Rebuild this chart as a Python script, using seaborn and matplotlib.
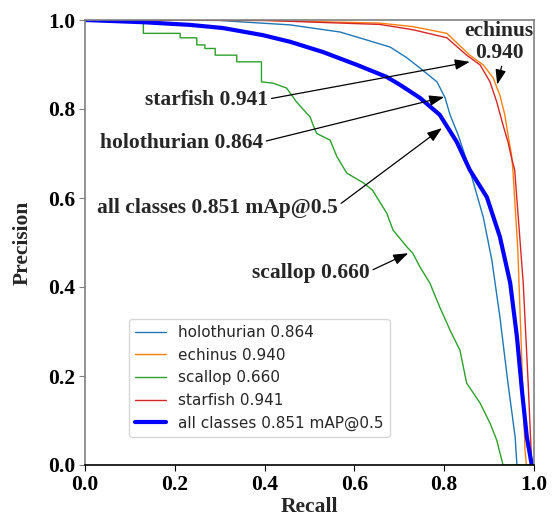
import matplotlib
matplotlib.use("Agg")
import matplotlib.pyplot as plt
import seaborn as sns
import pandas as pd

# ---------------- data ----------------
holo_r = [0, 0.30, 0.345, 0.457, 0.568, 0.641, 0.68, 0.717, 0.746, 0.784, 0.802, 0.813, 0.831, 0.857, 0.887,
          0.906, 0.924, 0.942, 0.958, 0.962, 1.0]
holo_p = [1.0, 0.999, 0.996, 0.989, 0.973, 0.951, 0.939, 0.915, 0.892, 0.861, 0.825, 0.787, 0.742, 0.663, 0.557,
          0.461, 0.333, 0.184, 0.063, 0.0, 0.0]

echi_r = [0, 0.40, 0.657, 0.731, 0.806, 0.857, 0.887, 0.909, 0.924, 0.935, 0.942, 0.950, 0.953, 0.964, 0.972,
          0.980, 0.983, 1.0]
echi_p = [1.0, 0.999, 0.993, 0.985, 0.970, 0.921, 0.899, 0.870, 0.831, 0.787, 0.742, 0.697, 0.663, 0.483, 0.258,
          0.034, 0.0, 0.0]

scal_r = [0, 0.130, 0.130, 0.212, 0.212, 0.249, 0.249, 0.267, 0.267, 0.290, 0.290, 0.338, 0.338, 0.393, 0.393,
          0.419, 0.449, 0.464, 0.471, 0.494, 0.501, 0.508, 0.516, 0.546, 0.561, 0.583, 0.62, 0.64, 0.672, 0.686,
          0.717, 0.73, 0.746, 0.768, 0.79, 0.813, 0.835, 0.85, 0.88, 0.902, 0.917, 0.931, 1.0]
scal_p = [1.0, 1.0, 0.970, 0.970, 0.960, 0.960, 0.944, 0.944, 0.936, 0.936, 0.921, 0.921, 0.906, 0.906, 0.861,
          0.858, 0.847, 0.826, 0.816, 0.790, 0.783, 0.764, 0.745, 0.730, 0.693, 0.656, 0.634, 0.618, 0.566, 0.528,
          0.490, 0.476, 0.445, 0.409, 0.355, 0.303, 0.258, 0.184, 0.139, 0.094, 0.056, 0.0, 0.0]

star_r = [0, 0.40, 0.657, 0.731, 0.806, 0.850, 0.880, 0.902, 0.917, 0.931, 0.942, 0.950, 0.957, 0.976, 0.987,
          0.995, 1.0]
star_p = [1.0, 0.999, 0.990, 0.978, 0.960, 0.921, 0.899, 0.861, 0.816, 0.764, 0.726, 0.690, 0.663, 0.409, 0.184,
          0.0, 0.0]

all_r = [0, 0.13, 0.234, 0.307, 0.396, 0.457, 0.53, 0.606, 0.672, 0.702, 0.746, 0.79, 0.828, 0.857, 0.895,
         0.924, 0.947, 0.962, 0.973, 0.984, 0.995, 1.0]
all_p = [1.0, 0.995, 0.989, 0.982, 0.966, 0.951, 0.928, 0.899, 0.872, 0.854, 0.825, 0.787, 0.726, 0.663, 0.602,
         0.513, 0.409, 0.288, 0.169, 0.063, 0.0, 0.0]

labels = ["holothurian 0.864", "echinus 0.940", "scallop 0.660", "starfish 0.941", "all classes 0.851 mAP@0.5"]
colors = ["#1f77b4", "#ff7f0e", "#2ca02c", "#d62728", "blue"]
widths = [1, 1, 1, 1, 3]

x_ticks = [0.0, 0.2, 0.4, 0.6, 0.8, 1.0]
y_ticks = [0.0, 0.2, 0.4, 0.6, 0.8, 1.0]

# annotations: text, text position, arrow target, arrow start point on text box
ann_text = ["echinus\n0.940", "starfish 0.941", "holothurian 0.864", "all classes 0.851 mAp@0.5", "scallop 0.660"]
ann_xytext = [(0.922, 0.95), (0.134, 0.82), (0.033, 0.724), (0.027, 0.578), (0.372, 0.431)]
ann_xy = [(0.918, 0.855), (0.857, 0.906), (0.80, 0.827), (0.795, 0.757), (0.72, 0.476)]
ann_ha = ["center", "left", "left", "left", "left"]
ann_relpos = [(0.55, 0.0), (1.0, 0.55), (1.0, 0.55), (1.0, 0.6), (1.0, 0.6)]

# ---------------- plot ----------------
sns.set_style("ticks")
plt.rcParams["font.family"] = ["DejaVu Sans"]

fig = plt.figure(figsize=(5.53, 5.18), dpi=100)
ax = fig.add_axes([85 / 553, 1 - 465 / 518, 449 / 553, 445 / 518])

series = [(holo_r, holo_p), (echi_r, echi_p), (scal_r, scal_p), (star_r, star_p), (all_r, all_p)]
for (r, p), lab, c, w in zip(series, labels, colors, widths):
    df = pd.DataFrame({"Recall": r, "Precision": p})
    sns.lineplot(data=df, x="Recall", y="Precision", sort=False, estimator=None,
                 color=c, linewidth=w, label=lab, ax=ax)

ax.set_xlim(0, 1)
ax.set_ylim(0, 1)
ax.set_xticks(x_ticks)
ax.set_yticks(y_ticks)
serif = ["Liberation Serif", "DejaVu Serif"]
ax.set_xticklabels([f"{v:.1f}" for v in x_ticks], fontfamily=serif, fontweight="bold", fontsize=15.5)
ax.set_yticklabels([f"{v:.1f}" for v in y_ticks], fontfamily=serif, fontweight="bold", fontsize=15.5)
ax.set_xlabel("Recall", fontfamily=serif, fontweight="bold", fontsize=15.5, labelpad=2)
ax.set_ylabel("Precision", fontfamily=serif, fontweight="bold", fontsize=15.5, labelpad=11)

for s in ["left", "top", "right"]:
    ax.spines[s].set_color("#808080")
    ax.spines[s].set_linewidth(1.2)
ax.spines["bottom"].set_color("black")
ax.spines["bottom"].set_linewidth(1.2)
ax.tick_params(axis="y", colors="#808080", labelcolor="black", length=4, pad=3)
ax.tick_params(axis="x", colors="black", length=4, pad=3)

for t, xyt, xy, ha, rp in zip(ann_text, ann_xytext, ann_xy, ann_ha, ann_relpos):
    ax.annotate(t, xy=xy, xytext=xyt, ha=ha, va="center", fontfamily=serif,
                fontweight="bold", fontsize=15.5, linespacing=1.1,
                arrowprops=dict(arrowstyle="-|>,head_length=0.45,head_width=0.16", color="black", lw=0.9,
                                mutation_scale=20, relpos=rp, shrinkA=0, shrinkB=0))

ax.legend(loc="lower left", bbox_to_anchor=(0.098, 0.063), borderaxespad=0,
          fontsize=11, labelspacing=0.5, frameon=True)

fig.savefig("out.png", dpi=100)
